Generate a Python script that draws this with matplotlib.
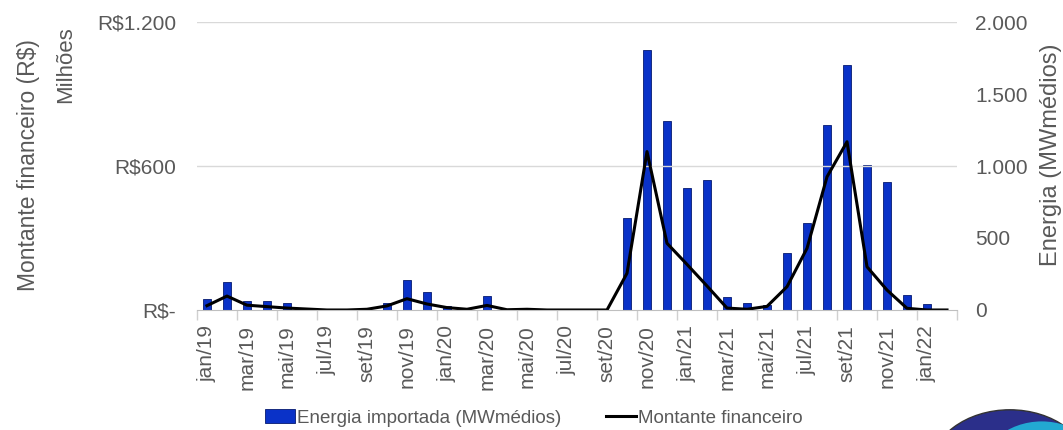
import matplotlib
matplotlib.use("Agg")
import matplotlib.pyplot as plt
import numpy as np
from matplotlib.patches import Ellipse

plt.rcParams['font.family'] = ['Liberation Sans', 'DejaVu Sans']

months_pt = ["jan", "fev", "mar", "abr", "mai", "jun", "jul", "ago", "set", "out", "nov", "dez"]
categories = []
for yr in ["19", "20", "21", "22"]:
    for m in months_pt:
        categories.append(f"{m}/{yr}")
categories = categories[:38]  # jan/19 .. fev/22

energia_mw = [74, 197, 65, 60, 46, 10, 0, 0, 0, 46, 208, 127,
              30, 0, 100, 0, 14, 0, 0, 0, 0, 637, 1806, 1315,
              850, 903, 93, 46, 35, 398, 602, 1287, 1699, 1009, 887, 102,
              42, 0]
montante_rs = [18, 58, 20, 14, 8, 4, 0, 0, 3, 17, 47, 25,
               10, 3, 19, 1, 3, 0, 0, 0, 0, 153, 660, 278,
               190, 100, 8, 3, 15, 97, 257, 555, 701, 180, 83, 7,
               0, 0]

left_ticks = [0, 600, 1200]
left_ticklabels = ["R$-", "R$600", "R$1.200"]
right_ticks = [0, 500, 1000, 1500, 2000]
right_ticklabels = ["0", "500", "1.000", "1.500", "2.000"]

grey = "#595959"
bar_color = "#0a32c8"

fig = plt.figure(figsize=(10.63, 4.30), dpi=100)
ax = fig.add_axes([0.1853, 0.2791, 0.9003 - 0.1853, 0.9488 - 0.2791])
ax2 = ax.twinx()

x = np.arange(len(categories))
bars = ax2.bar(x, energia_mw, width=0.42, color=bar_color, edgecolor="#061a70", linewidth=0.6,
               label="Energia importada (MWmédios)")
line, = ax.plot(x, montante_rs, color="black", linewidth=2.2, label="Montante financeiro")

ax.set_zorder(ax2.get_zorder() + 1)
ax.patch.set_visible(False)

ax.set_xlim(-0.5, len(categories) - 0.5)
ax.set_ylim(0, 1200)
ax2.set_ylim(0, 2000)

for yv in [600, 1200]:
    ax.axhline(yv, color="#d9d9d9", linewidth=1.0, zorder=0)

for a in (ax, ax2):
    for s in ["top", "left", "right"]:
        a.spines[s].set_visible(False)
ax.spines["bottom"].set_color("#bfbfbf")
ax2.spines["bottom"].set_visible(False)

ax.set_yticks(left_ticks)
ax.set_yticklabels(left_ticklabels)
ax2.set_yticks(right_ticks)
ax2.set_yticklabels(right_ticklabels)
ax.tick_params(axis="y", length=0, pad=15, labelsize=15, labelcolor=grey)
ax2.tick_params(axis="y", length=0, pad=13, labelsize=15, labelcolor=grey)

ax.set_xticks(x[::2])
ax.set_xticklabels(categories[::2], rotation=90)
ax.set_xticks(np.arange(-0.5, len(categories), 2), minor=True)
ax.tick_params(axis="x", which="major", length=0, pad=11, labelsize=15, labelcolor=grey)
ax.tick_params(axis="x", which="minor", length=7, color="#d0d0d0", width=1)

fig.text(0.027, 0.616, "Montante financeiro (R$)", rotation=90, ha="center", va="center",
         fontsize=16.5, color=grey)
fig.text(0.062, 0.85, "Milhões", rotation=90, ha="center", va="center",
         fontsize=16, color=grey)
fig.text(0.989, 0.64, "Energia (MWmédios)", rotation=90, ha="center", va="center",
         fontsize=17, color=grey)

fig.legend(handles=[bars, line], labels=["Energia importada (MWmédios)", "Montante financeiro"],
           loc="center", bbox_to_anchor=(0.502, 0.028), ncol=2, frameon=False,
           fontsize=13.5, labelcolor=grey, handlelength=1.6, handletextpad=0.1,
           columnspacing=2.4)

# decorative logo swoosh (bottom-right corner)
logo = Ellipse((0.95, -0.093), 0.15, 0.28, transform=fig.transFigure, facecolor="#2b2f8a",
               edgecolor="#333333", linewidth=1.0)
fig.patches.append(logo)
logo2 = Ellipse((0.98, -0.11), 0.12, 0.26, transform=fig.transFigure, facecolor="#22a9d2",
                edgecolor="none")
fig.patches.append(logo2)

fig.savefig("out.png", dpi=100)
